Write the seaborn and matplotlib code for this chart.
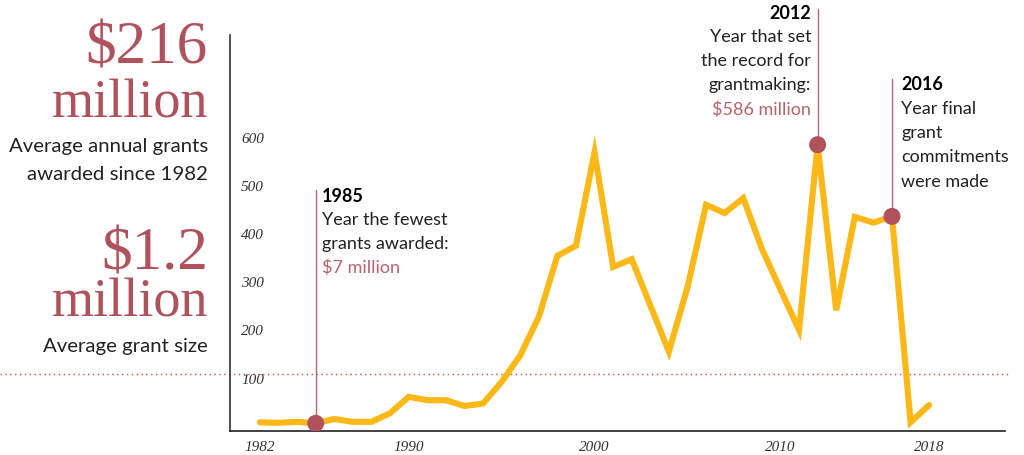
import matplotlib
matplotlib.use("Agg")
import matplotlib.pyplot as plt
import seaborn as sns
import pandas as pd
from matplotlib.transforms import blended_transform_factory

# ---- data ----
years = list(range(1982, 2019))
grants = [9, 8, 10, 7, 16, 10, 10, 28, 62, 55, 55, 43, 48, 93, 148, 228, 355, 376,
          570, 332, 348, 252, 156, 290, 461, 444, 475, 370, 285, 201, 586, 242, 436,
          424, 437, 9, 45]
highlight_years = [1985, 2012, 2016]
y_ticks = [100, 200, 300, 400, 500, 600]
x_ticks = [1982, 1990, 2000, 2010, 2018]
avg_line = 109

sns.set_style("white")
plt.rcParams['font.family'] = ['Lato', 'DejaVu Sans']

W, H = 1024, 455
fig = plt.figure(figsize=(W / 100, H / 100), dpi=100)
ax = fig.add_axes([230 / W, 1 - 431 / H, (1005 - 230) / W, (431 - 35) / H])

GOLD = '#fbb817'
RED = '#b0525c'
LINE_RED = '#b9636d'

df = pd.DataFrame({'year': years, 'grants': grants})
sns.lineplot(data=df, x='year', y='grants', color=GOLD, linewidth=4.4, ax=ax,
             solid_joinstyle='miter', zorder=3)

ax.set_xlim(1980.39, 2022.08)
ax.set_ylim(-9, 814)

# dotted reference line across the full figure width
tr = blended_transform_factory(fig.transFigure, ax.transData)
ax.plot([0, 1010 / W], [avg_line, avg_line], transform=tr, clip_on=False,
        color='#d24a4a', linestyle=(0, (1, 2.5)), linewidth=1.0, zorder=1)

# highlight lines and dots
hl = df[df['year'].isin(highlight_years)]
tops = {1985: 491, 2012: 869, 2016: 723}
for yr, val in zip(hl['year'], hl['grants']):
    ax.plot([yr, yr], [val, tops[yr]], color=LINE_RED, linewidth=1.0,
            clip_on=False, zorder=2)
sns.scatterplot(data=hl, x='year', y='grants', color=RED, s=150, ax=ax,
                edgecolor='none', zorder=5, legend=False)

# axes styling
for s in ['top', 'right']:
    ax.spines[s].set_visible(False)
ax.spines['left'].set_color('#333333')
ax.spines['left'].set_linewidth(1.2)
ax.spines['bottom'].set_color('#222222')
ax.spines['bottom'].set_linewidth(1.2)
ax.set_xlabel('')
ax.set_ylabel('')

tick_font = dict(family='Liberation Serif', style='italic', size=11, color='#333333')
ax.set_yticks(y_ticks)
ax.set_yticklabels([str(v) for v in y_ticks], ha='left', **tick_font)
ax.tick_params(axis='y', length=0, pad=-8)
ax.set_xticks(x_ticks)
ax.set_xticklabels([str(v) for v in x_ticks], **tick_font)
ax.tick_params(axis='x', length=0, pad=7)

def fx(px):
    return px / W

def fy(py):
    return 1 - py / H

# left stats
SERIF = 'Liberation Serif'
BIG_RED = '#b0525c'
TXT = '#222222'
fig.text(fx(208), fy(63), '$216', family=SERIF, size=44, color=BIG_RED,
         ha='right', va='baseline')
fig.text(fx(208), fy(118), 'million', family=SERIF, size=39, color=BIG_RED,
         ha='right', va='baseline')
fig.text(fx(208), fy(151.7), 'Average annual grants', size=14.7, color=TXT,
         ha='right', va='baseline')
fig.text(fx(208), fy(180), 'awarded since 1982', size=14.7, color=TXT,
         ha='right', va='baseline')
fig.text(fx(208), fy(269), '$1.2', family=SERIF, size=44, color=BIG_RED,
         ha='right', va='baseline')
fig.text(fx(208), fy(316.7), 'million', family=SERIF, size=39, color=BIG_RED,
         ha='right', va='baseline')
fig.text(fx(208), fy(351.7), 'Average grant size', size=14.7, color=TXT,
         ha='right', va='baseline')

# annotations
ANN = 13
def block(x, ys, lines, ha):
    for i, (y, t) in enumerate(zip(ys, lines)):
        kw = dict(size=ANN, ha=ha, va='center', color=TXT)
        if i == 0:
            kw['weight'] = 'bold'
            kw['color'] = '#000000'
        if t.startswith('$'):
            kw['color'] = '#b9636d'
        fig.text(fx(x), fy(y), t, **kw)

block(322, [197, 220, 244, 268],
      ['1985', 'Year the fewest', 'grants awarded:', '$7 million'], 'left')
block(811, [13.3, 36.7, 61, 85, 109.3],
      ['2012', 'Year that set', 'the record for', 'grantmaking:', '$586 million'], 'right')
block(901, [85, 109.3, 133, 156.7, 181.7],
      ['2016', 'Year final', 'grant', 'commitments', 'were made'], 'left')

fig.savefig('out.png', dpi=100)
